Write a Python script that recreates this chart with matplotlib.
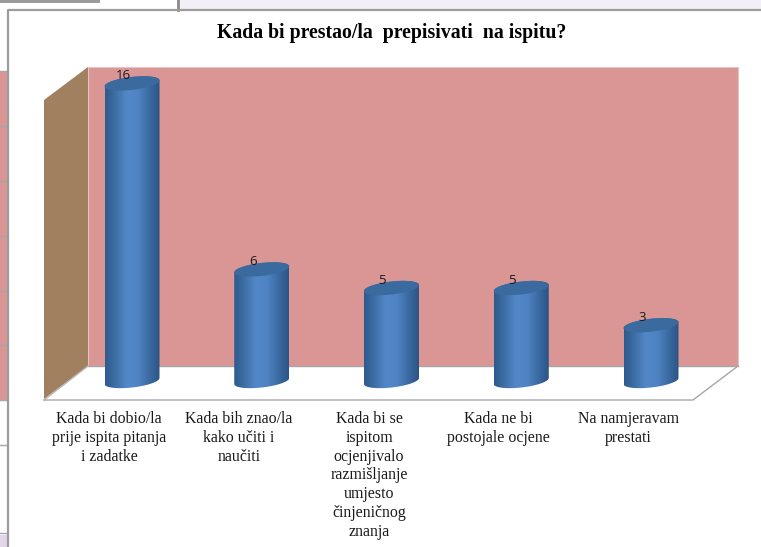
import numpy as np
import matplotlib
matplotlib.use('Agg')
import matplotlib.pyplot as plt
from matplotlib.patches import Polygon, Rectangle
from matplotlib.colors import LinearSegmentedColormap

categories = ['Kada bi dobio/la\nprije ispita pitanja\ni zadatke',
              'Kada bih znao/la\nkako učiti i\nnaučiti',
              'Kada bi se\nispitom\nocjenjivalo\nrazmišljanje\numjesto\nčinjeničnog\nznanja',
              'Kada ne bi\npostojale ocjene',
              'Na namjeravam\nprestati']
values = [16, 6, 5, 5, 3]
title = 'Kada bi prestao/la  prepisivati  na ispitu?'

W, H = 761, 547
plt.rcParams['font.family'] = ['Liberation Serif', 'DejaVu Serif']

fig = plt.figure(figsize=(W / 100, H / 100), dpi=100)

# page + chart decoration, in pixels
bg = fig.add_axes([0, 0, 1, 1])
bg.set_xlim(0, W)
bg.set_ylim(H, 0)
bg.axis('off')

bg.add_patch(Rectangle((180, 0), W - 180, 9, fc='#f3eff7', ec='none'))
bg.plot([178, 178], [0, 10], color='#8a8a8a', lw=2)
bg.add_patch(Rectangle((0, 0), 100, 2.5, fc='#9a9a9a', ec='none'))
bg.add_patch(Rectangle((0, 71), 7, 329, fc='#d99694', ec='none'))
bg.add_patch(Rectangle((0, 535), 7, 12, fc='#e3d5ec', ec='none'))
for yy in [71, 126, 181, 236, 291, 345, 400, 445, 533]:
    bg.plot([0, 7], [yy, yy], color='#a6a6a6', lw=1)
bg.plot([7.5, 7.5, W], [H, 10, 10], color='#9c9c9c', lw=1.6)

bg.add_patch(Polygon([(88, 67), (738, 67), (738, 366), (88, 366)], fc='#d99694', ec='#e6c4c3', lw=0.8))
bg.add_patch(Polygon([(44, 100), (88, 67), (88, 366), (44, 399)], fc='#a0805e', ec='none'))
bg.add_patch(Polygon([(44, 400), (88, 366), (738, 366), (693, 400)], fc='white', ec='none'))
bg.plot([44, 693, 738], [400, 400, 366], color='#a6a6a6', lw=1)
bg.plot([88, 738], [366, 366], color='#a6a6a6', lw=1)
bg.plot([44, 88], [400, 366], color='#b5b5b5', lw=1)

bg.text(392, 33, title, ha='center', va='center', fontsize=14.2, fontweight='bold', color='black')

# bars, in data units; the axes runs a little below zero so the round base fits
y0_px, unit_px = 381, 18.6
x0_px, step_px = 132, 129.75
left_px, right_px = x0_px - step_px / 2, x0_px + 4.5 * step_px
top_px, bottom_px = 40, 395
ax = fig.add_axes([left_px / W, 1 - bottom_px / H, (right_px - left_px) / W, (bottom_px - top_px) / H])
ymin = -(bottom_px - y0_px) / unit_px
ymax = (y0_px - top_px) / unit_px
ax.axis('off')
ax.patch.set_alpha(0)

cmap = LinearSegmentedColormap.from_list('cyl', ['#2f5a8c', '#3f70a8', '#5388c8', '#4f84c4', '#3c6ca4', '#2c5484'])
rx = 27.5 / step_px
ry = 6.5 / unit_px
tilt = 3.0 / unit_px  # right side of the ellipse sits a little higher
t_back = np.linspace(0, np.pi, 60)
t_front = np.linspace(-np.pi, 0, 60)

for i, v in enumerate(values):
    xb = i + rx * np.cos(t_front)
    yb = ry * np.sin(t_front) + tilt * np.cos(t_front)
    xt = i + rx * np.cos(t_back)
    yt = v + ry * np.sin(t_back) + tilt * np.cos(t_back)
    verts = np.vstack([np.column_stack([xb, yb]), np.column_stack([xt, yt])])
    im = ax.imshow(np.linspace(0, 1, 128).reshape(1, -1), cmap=cmap, aspect='auto',
                   extent=(i - rx, i + rx, -2, v + 2), zorder=2)
    body = Polygon(verts, closed=True, fc='none', ec='none', transform=ax.transData)
    ax.add_patch(body)
    im.set_clip_path(body)

    t = np.linspace(0, 2 * np.pi, 80)
    ax.fill(i + rx * np.cos(t), v + ry * np.sin(t) + tilt * np.cos(t), color='#3b6a9e', lw=0, zorder=3)
    ax.text(i - 0.07, v + 0.42, str(v), ha='center', va='center', fontsize=9.5,
            family=['Open Sans', 'DejaVu Sans'], color='#1a1a1a', zorder=4)

ax.set_xlim(-0.5, 4.5)
ax.set_ylim(ymin, ymax)

# category labels
label_x = [109, 239, 369, 498, 628]
for x, lab in zip(label_x, categories):
    bg.text(x, 411, lab, ha='center', va='top', fontsize=11.4, linespacing=1.23, color='#1a1a1a')

fig.savefig('out.png', dpi=100)
